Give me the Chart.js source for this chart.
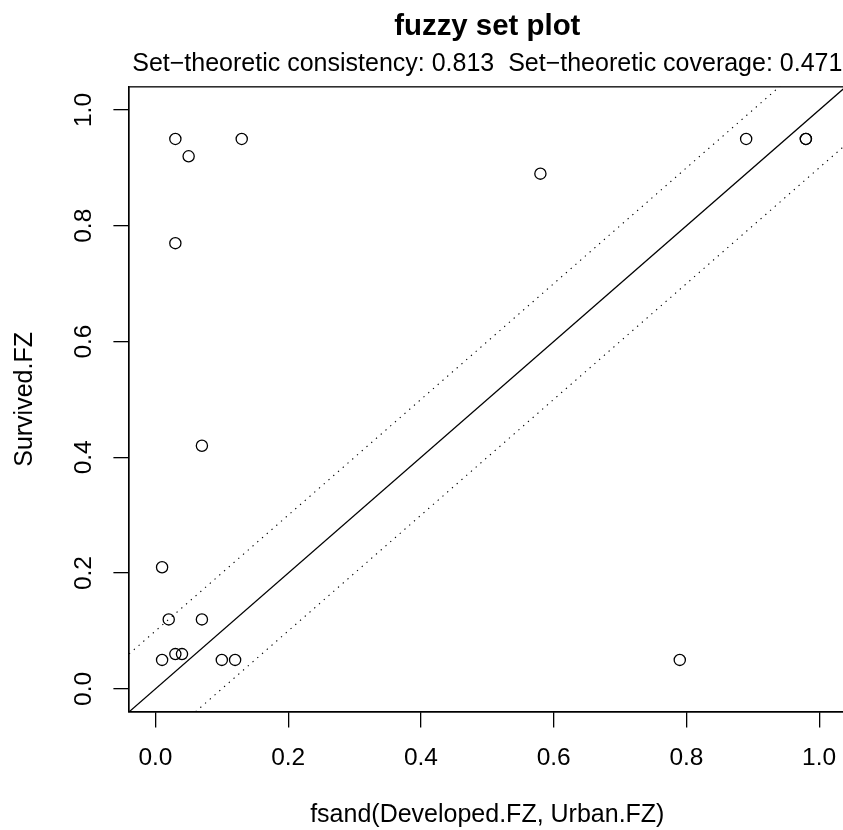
<!DOCTYPE html>
<html>
<head>
<meta charset="utf-8">
<script src="https://cdn.jsdelivr.net/npm/chart.js@4.4.1/dist/chart.umd.min.js"></script>
<style>
  html, body { margin: 0; padding: 0; background: #fff; overflow: hidden; width: 843px; height: 830px; }
  #wrap { width: 900px; height: 830px; }
</style>
</head>
<body>
<div id="wrap"><canvas id="c" width="900" height="830"></canvas></div>
<script>
// ---- data ----
const caseX = [0.03, 0.05, 0.13, 0.03, 0.58, 0.89, 0.98, 0.98, 0.07, 0.01, 0.02, 0.07, 0.01, 0.03, 0.04, 0.10, 0.12, 0.79];
const caseY = [0.95, 0.92, 0.95, 0.77, 0.89, 0.95, 0.95, 0.95, 0.42, 0.21, 0.12, 0.12, 0.05, 0.06, 0.06, 0.05, 0.05, 0.05];
const xTickValues = [0, 0.2, 0.4, 0.6, 0.8, 1.0];
const yTickValues = [0, 0.2, 0.4, 0.6, 0.8, 1.0];
const axisMin = -0.04;
const axisMax = 1.04;
const diagonalOffsets = [0, 0.1, -0.1];
const mainTitle = 'fuzzy set plot';
const subTitle = 'Set\u2212theoretic consistency: 0.813  Set\u2212theoretic coverage: 0.471';
const xTitle = 'fsand(Developed.FZ, Urban.FZ)';
const yTitle = 'Survived.FZ';

// ---- styles ----
const FONT = '"Liberation Sans", Arial, Helvetica, sans-serif';
const TICK_SIZE = 24.5;
const TEXT_SIZE = 25;
const INK = '#000';

const frame = {
  id: 'frame',
  afterDatasetsDraw(chart) {
    const {ctx, chartArea: a} = chart;
    ctx.save();
    ctx.strokeStyle = INK;
    ctx.lineWidth = 1.3;
    ctx.strokeRect(a.left, a.top, a.right - a.left, a.bottom - a.top);
    ctx.restore();
  }
};

const lineDatasets = diagonalOffsets.map((off, i) => ({
  data: [{x: axisMin - 0.2, y: axisMin - 0.2 + off}, {x: axisMax + 0.2, y: axisMax + 0.2 + off}],
  showLine: true,
  borderColor: INK,
  borderWidth: i === 0 ? 1.3 : 1.1,
  borderDash: i === 0 ? [] : [1.3, 5.0],
  pointRadius: 0,
  pointHoverRadius: 0,
  fill: false
}));

const pointDataset = {
  data: caseX.map((x, i) => ({x: x, y: caseY[i]})),
  showLine: false,
  pointStyle: 'circle',
  pointRadius: 5.6,
  pointHoverRadius: 5.6,
  pointBorderWidth: 1.3,
  borderColor: INK,
  backgroundColor: 'rgba(0,0,0,0)'
};

function axis(tickValues, isY) {
  return {
    type: 'linear',
    position: isY ? 'left' : 'bottom',
    min: axisMin,
    max: axisMax,
    afterBuildTicks: s => { s.ticks = tickValues.map(v => ({value: v})); },
    ticks: {
      callback: v => Number(v).toFixed(1),
      color: INK,
      font: {family: FONT, size: TICK_SIZE, lineHeight: 1.2},
      padding: isY ? 11.8 : 15.8,
      minRotation: isY ? 90 : 0,
      maxRotation: isY ? 90 : 0,
      crossAlign: isY ? 'center' : 'near',
      autoSkip: false
    },
    grid: {
      drawOnChartArea: false,
      drawTicks: true,
      tickLength: 15.5,
      color: INK,
      tickColor: INK,
      tickWidth: 1.3,
      lineWidth: 1.3
    },
    border: {display: true, color: INK, width: 1.3},
    title: {
      display: true,
      text: isY ? yTitle : xTitle,
      color: INK,
      font: {family: FONT, size: TEXT_SIZE, lineHeight: 1.2},
      padding: isY ? {top: 10.5, bottom: 19.9} : {top: 11.5, bottom: 0}
    }
  };
}

new Chart(document.getElementById('c'), {
  type: 'scatter',
  data: {datasets: [...lineDatasets, pointDataset]},
  options: {
    responsive: false,
    animation: false,
    devicePixelRatio: 1,
    layout: {padding: {left: 0, right: 54.3, top: 0, bottom: 0}},
    plugins: {
      legend: {display: false},
      tooltip: {enabled: false},
      title: {
        display: true, text: mainTitle, fullSize: false, color: INK,
        font: {family: FONT, size: 29.4, weight: 'bold', lineHeight: 1.2},
        padding: {top: 8.86, bottom: 0}
      },
      subtitle: {
        display: true, text: subTitle, fullSize: false, color: INK,
        font: {family: FONT, size: TEXT_SIZE, weight: 'normal', lineHeight: 1.2},
        padding: {top: 5.0, bottom: 7.7}
      }
    },
    scales: {
      x: axis(xTickValues, false),
      y: axis(yTickValues, true)
    }
  },
  plugins: [frame]
});
</script>
</body>
</html>
